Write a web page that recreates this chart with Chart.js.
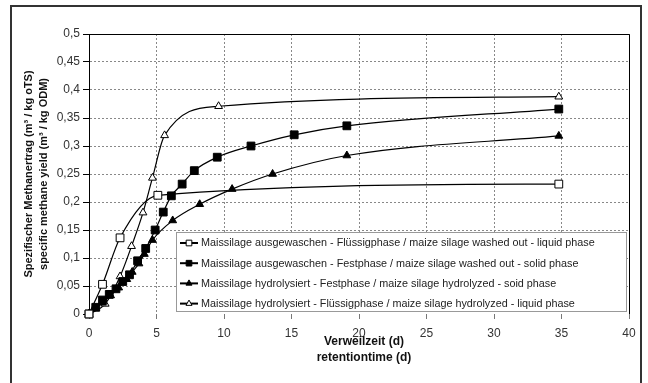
<!DOCTYPE html>
<html>
<head>
<meta charset="utf-8">
<script src="https://cdn.jsdelivr.net/npm/chart.js@4/dist/chart.umd.min.js"></script>
<style>
    html, body { margin: 0; padding: 0; background: #fff; }
    #wrap { width: 648px; height: 383px; position: relative; }
</style>
</head>
<body>
<div id="wrap"><canvas id="methaneChart" width="648" height="383"></canvas></div>
<script>
// values (x = Verweilzeit in d, y = m3 / kg oTS)
const washedLiquidX = [0, 1, 2.3, 5.1, 34.8];
const washedLiquidY = [0, 0.053, 0.136, 0.212, 0.232];

const washedSolidX = [0, 0.5, 1, 1.5, 2, 2.5, 3, 3.6, 4.2, 4.9, 5.5, 6.1, 6.9, 7.8, 9.5, 12, 15.2, 19.1, 34.8];
const washedSolidY = [0, 0.012, 0.025, 0.035, 0.045, 0.058, 0.07, 0.095, 0.117, 0.15, 0.182, 0.211, 0.232, 0.256, 0.28, 0.3, 0.32, 0.336, 0.366];

const hydroSolidX = [0, 0.5, 1, 1.6, 2.2, 2.8, 3.2, 3.7, 4.1, 4.7, 6.2, 8.2, 10.6, 13.6, 19.1, 34.8];
const hydroSolidY = [0, 0.01, 0.02, 0.033, 0.047, 0.062, 0.075, 0.09, 0.107, 0.132, 0.167, 0.196, 0.223, 0.25, 0.283, 0.318];

const hydroLiquidX = [0, 1.2, 2.3, 3.15, 4.0, 4.7, 5.6, 9.6, 34.8];
const hydroLiquidY = [0, 0.018, 0.067, 0.121, 0.181, 0.243, 0.319, 0.371, 0.388];

const seriesLabels = [
    'Maissilage ausgewaschen - Flüssigphase / maize silage washed out - liquid phase',
    'Maissilage ausgewaschen - Festphase / maize silage washed out - solid phase',
    'Maissilage hydrolysiert - Festphase / maize silage hydrolyzed - soid phase',
    'Maissilage hydrolysiert - Flüssigphase / maize silage hydrolyzed - liquid phase'
];

const yTitle = ['Spezifischer Methanertrag (m³ / kg oTS)', 'specific methane yield (m³ / kg ODM)'];
const xTitle = ['Verweilzeit (d)', 'retentiontime (d)'];

const FONT = "'Liberation Sans', Arial, sans-serif";

function toPoints(xs, ys) {
    return xs.map((x, i) => ({ x: x, y: ys[i] }));
}

function makeSet(label, xs, ys, style, filled, radius) {
    return {
        label: label,
        data: toPoints(xs, ys),
        showLine: true,
        clip: false,
        cubicInterpolationMode: 'monotone',
        borderColor: '#000',
        borderWidth: 1.2,
        pointStyle: style,
        pointRadius: radius,
        pointHoverRadius: radius,
        pointBackgroundColor: filled ? '#000' : '#fff',
        pointBorderColor: '#000',
        pointBorderWidth: 1
    };
}

const datasets = [
    makeSet(seriesLabels[0], washedLiquidX, washedLiquidY, 'rect', false, 5.5),
    makeSet(seriesLabels[1], washedSolidX, washedSolidY, 'rect', true, 5.5),
    makeSet(seriesLabels[2], hydroSolidX, hydroSolidY, 'triangle', true, 4.5),
    makeSet(seriesLabels[3], hydroLiquidX, hydroLiquidY, 'triangle', false, 4.5)
];

function commaNum(v) {
    return (Math.round(v * 100) / 100).toString().replace('.', ',');
}

// white page + outer frame, like the exported chart object
const framePlugin = {
    id: 'frame',
    beforeDraw(chart) {
        const ctx = chart.ctx;
        ctx.save();
        ctx.fillStyle = '#fff';
        ctx.fillRect(0, 0, chart.width, chart.height);
        ctx.strokeStyle = '#333';
        ctx.lineWidth = 2;
        ctx.strokeRect(11, 6, 630, 400);
        ctx.restore();
    },
    afterDraw(chart) {
        const ctx = chart.ctx;
        const a = chart.chartArea;
        ctx.save();
        // top and right border of plot area
        ctx.strokeStyle = '#000';
        ctx.lineWidth = 1;
        ctx.beginPath();
        ctx.moveTo(a.left, a.top + 0.5);
        ctx.lineTo(a.right + 0.5, a.top + 0.5);
        ctx.lineTo(a.right + 0.5, a.bottom);
        ctx.stroke();

        // axis titles
        ctx.fillStyle = '#111';
        ctx.font = 'bold 11px ' + FONT;
        ctx.textAlign = 'center';
        ctx.textBaseline = 'middle';
        ctx.save();
        ctx.translate(29, (a.top + a.bottom) / 2);
        ctx.rotate(-Math.PI / 2);
        ctx.fillText(yTitle[0], 0, 0);
        ctx.fillText(yTitle[1], 0, 15);
        ctx.restore();
        ctx.font = 'bold 12px ' + FONT;
        ctx.fillText(xTitle[0], 364, 342);
        ctx.fillText(xTitle[1], 364, 358);
        ctx.restore();
    }
};

// legend box inside the plot, lower right
const legendBoxPlugin = {
    id: 'legendBox',
    afterDatasetsDraw(chart) {
        const ctx = chart.ctx;
        const a = chart.chartArea;
        const left = 176, top = 232, right = a.right - 2, bottom = 312;
        ctx.save();
        ctx.fillStyle = '#fff';
        ctx.fillRect(left, top, right - left, bottom - top);
        ctx.strokeStyle = '#999';
        ctx.lineWidth = 1;
        ctx.strokeRect(left + 0.5, top + 0.5, right - left - 1, bottom - top - 1);

        ctx.font = '10.8px ' + FONT;
        ctx.textBaseline = 'middle';
        ctx.textAlign = 'left';
        chart.data.datasets.forEach((ds, i) => {
            const y = 243 + i * 20.2;
            ctx.strokeStyle = '#000';
            ctx.lineWidth = 2;
            ctx.beginPath();
            ctx.moveTo(180, y);
            ctx.lineTo(198, y);
            ctx.stroke();
            ctx.fillStyle = ds.pointBackgroundColor;
            ctx.strokeStyle = '#000';
            ctx.lineWidth = 1;
            Chart.helpers.drawPoint(ctx, {
                pointStyle: ds.pointStyle,
                radius: ds.pointStyle === 'rect' ? 4 : 3.5,
                borderWidth: 1,
                rotation: 0
            }, 189, y);
            ctx.fillStyle = '#222';
            ctx.fillText(ds.label, 201, y + 0.5);
        });
        ctx.restore();
    }
};

new Chart(document.getElementById('methaneChart'), {
    type: 'scatter',
    data: { datasets: datasets },
    plugins: [framePlugin, legendBoxPlugin],
    options: {
        responsive: false,
        animation: false,
        events: [],
        layout: { padding: { left: 0, top: 34, right: 19, bottom: 0 } },
        plugins: {
            legend: { display: false },
            tooltip: { enabled: false }
        },
        scales: {
            x: {
                type: 'linear',
                min: 0,
                max: 40,
                afterFit(scale) { scale.height = 69; },
                border: { display: false, dash: [2, 2] },
                grid: {
                    color: '#888',
                    lineWidth: 1,
                    tickColor: '#777',
                    tickLength: 5
                },
                ticks: {
                    stepSize: 5,
                    padding: 7,
                    color: '#333',
                    font: { family: FONT, size: 12 },
                    maxRotation: 0
                }
            },
            y: {
                type: 'linear',
                min: 0,
                max: 0.5,
                afterFit(scale) { scale.width = 89; },
                border: { display: true, color: '#000', width: 1, dash: [2, 2] },
                grid: {
                    color: ctx => (ctx.tick && ctx.tick.value === 0) ? 'rgba(0,0,0,0)' : '#888',
                    lineWidth: 1,
                    tickColor: '#000',
                    tickLength: 6
                },
                ticks: {
                    stepSize: 0.05,
                    padding: 3,
                    color: '#333',
                    font: { family: FONT, size: 12 },
                    callback: v => commaNum(v)
                }
            }
        }
    }
});
</script>
</body>
</html>
